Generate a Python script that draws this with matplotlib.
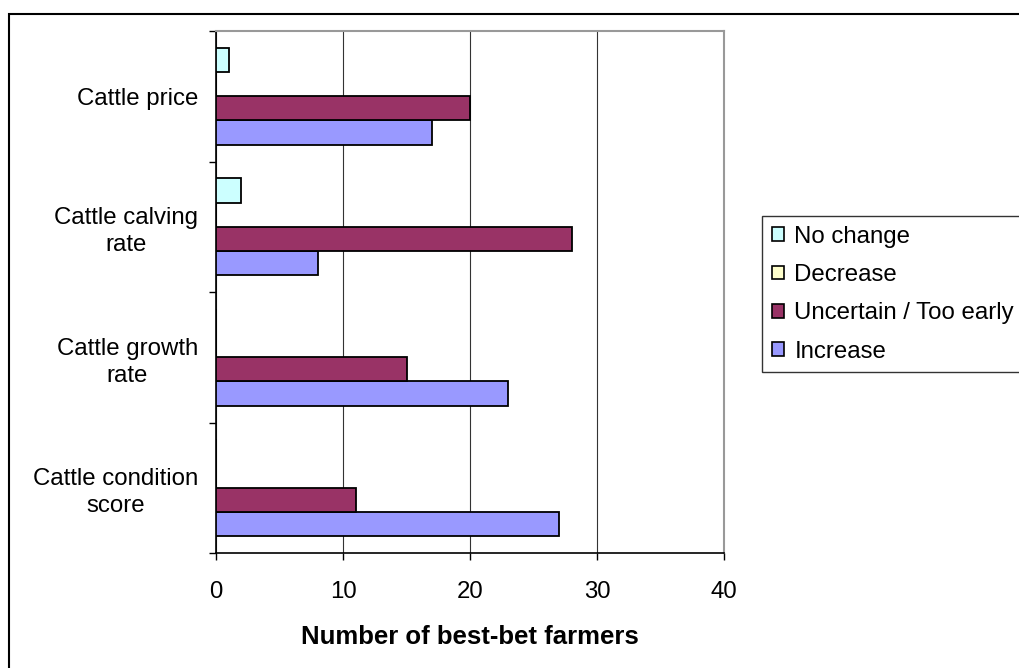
import numpy as np
from matplotlib import pyplot as plt
from matplotlib.patches import Rectangle, Patch

# categories listed bottom to top
categorias = ['Cattle condition\nscore', 'Cattle growth\nrate', 'Cattle calving\nrate', 'Cattle price']

incremento = [27, 23, 8, 17]
incierto = [11, 15, 28, 20]
disminucion = [0, 0, 0, 0]
sinCambio = [0, 0, 2, 1]

nombres = ['Increase', 'Uncertain / Too early', 'Decrease', 'No change']
colores = ['#9999FF', '#993366', '#FFFFCC', '#CCFFFF']

plt.rcParams['font.family'] = ['Liberation Sans', 'DejaVu Sans']

fig = plt.figure(figsize=(10.19, 6.68), dpi=100)
ax = fig.add_axes([216/1019, 1 - 553/668, 508/1019, 522/668])

y = np.arange(len(categorias))
h = 0.185
series = [incremento, incierto, disminucion, sinCambio]
for i, valores in enumerate(series):
    ax.barh(y + (i - 1.5) * h, valores, height=h, color=colores[i],
            edgecolor='black', linewidth=1.3, zorder=3)

ax.set_xlim(0, 40)
ax.set_ylim(-0.5, 3.5)
ax.set_xticks([0, 10, 20, 30, 40])
ax.set_yticks(y)
ax.set_yticklabels(categorias)
for lbl in ax.get_yticklabels():
    lbl.set_multialignment('center')
    lbl.set_linespacing(1.3)
ax.set_yticks(np.arange(-0.5, 4, 1), minor=True)
ax.tick_params(axis='y', which='major', length=0, pad=13, labelsize=17.3)
ax.tick_params(axis='y', which='minor', length=5, width=1, direction='out')
ax.tick_params(axis='x', length=5, width=1, direction='out', pad=15, labelsize=17.3)

ax.grid(True, axis='x', color='#333333', linewidth=0.8, zorder=0)
ax.spines['left'].set_linewidth(1.2)
ax.spines['bottom'].set_linewidth(1.2)
ax.spines['top'].set_color('#999999')
ax.spines['right'].set_color('#999999')
ax.spines['top'].set_linewidth(1.5)
ax.spines['right'].set_linewidth(1.5)

ax.set_xlabel('Number of best-bet farmers', fontsize=18.5, fontweight='bold', labelpad=16)

# legend in reverse series order
handles = [Patch(facecolor=colores[i], edgecolor='black', linewidth=1.2) for i in [3, 2, 1, 0]]
etiquetas = [nombres[i] for i in [3, 2, 1, 0]]
leg = fig.legend(handles, etiquetas, loc='upper left', bbox_to_anchor=(762/1019, 1 - 216/668),
                 fontsize=17.3, frameon=True, fancybox=False, handlelength=0.5, handleheight=0.5,
                 handletextpad=0.45, labelspacing=0.68, borderpad=0.4, borderaxespad=0)
leg.get_frame().set_edgecolor('black')
leg.get_frame().set_linewidth(1.0)

# outer chart border
fig.add_artist(Rectangle((9/1019, -0.1), 1.2, 1 - 14/668 + 0.1, transform=fig.transFigure,
                         fill=False, edgecolor='black', linewidth=1.5, clip_on=False))

plt.savefig('out.png', dpi=100)
